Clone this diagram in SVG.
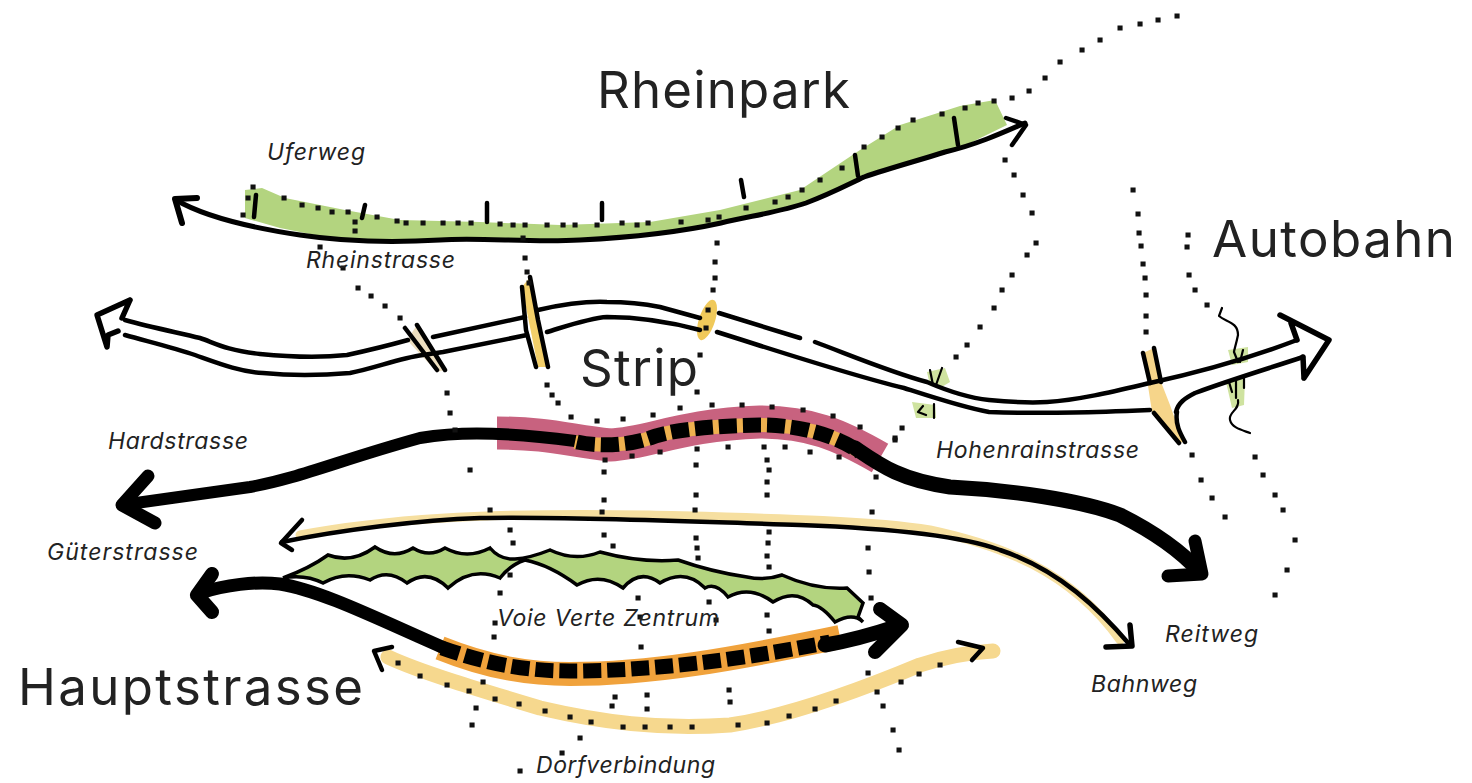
<svg xmlns="http://www.w3.org/2000/svg" width="1472" height="783" viewBox="0 0 1472 783">
<style>
.big{font-family:"Inter","Liberation Sans",sans-serif;font-size:51px;fill:#222}
.lab{font-family:"Inter","Liberation Sans",sans-serif;font-size:23px;font-style:italic;fill:#222}
.ln{fill:none;stroke:#000;stroke-linecap:round;stroke-linejoin:round}
.thin{stroke-width:4.5}
.med{stroke-width:5.5}
.thick{stroke-width:12}
.head{stroke-width:13}
.dots{fill:none;stroke:#111;stroke-width:5;stroke-linecap:square}
.yband{fill:none;stroke-linecap:round;stroke-linejoin:round}
.bband{fill:none;stroke-linecap:butt;stroke-linejoin:round}
.dash{fill:none;stroke:#000;stroke-width:15;stroke-dasharray:18 6}
.grn{fill:#b3d47f}
.tuft{fill:#cfe3a0}
</style>
<rect width="1472" height="783" fill="#fff"/>

<g id="rheinstrasse">
<path class="grn" d="M245 190L262 188L285 198L345 210L400 220L480 222L560 225L650 222L720 210L800 190L860 150L900 125L960 106L995 100L1007 125L962 147L945 152L864 177L806 203L721 223L640 236L560 240L480 238L400 240L330 238L280 228L245 218Z"/>
<path class="ln" stroke-width="5" d="M176 200C200 214 240 226 300 235C340 241 390 243 440 240C480 237 530 243 580 240C640 237 680 232 721 223C750 216 780 212 806 203C830 194 845 186 864 177C890 168 920 160 945 152C975 145 1000 134 1025 123"/>
<path class="ln" stroke-width="6" d="M197 198L175 199L182 223"/>
<path class="ln thin" d="M1006 118L1026 125L1012 145"/>
<path class="ln thin" d="M256 195L254 217M365 205L362 218M487 203V222M602 203V220M741 180L744 197M855 155L858 176M954 118L958 145"/>
</g>

<g id="autobahn">
<path d="M407 340L417 325L445 370L437 372Z" fill="#eedfc0"/>
<path d="M522 287L530 277L548 367L538 367Z" fill="#f3cf6a"/>
<ellipse cx="707" cy="320" rx="8" ry="21" transform="rotate(18 707 320)" fill="#f0c95a"/>
<path d="M1143 353L1154 348L1161 382L1170 405L1183 442L1179 443L1152 412Z" fill="#f6d58a"/>
<path class="tuft" d="M927 372L945 368L950 382L940 388L930 386Z"/>
<path class="tuft" d="M912 402L935 405L936 418L916 418Z"/>
<path class="tuft" d="M1228 350L1248 347L1248 362L1232 365Z"/>
<path class="tuft" d="M1226 382L1245 378L1244 405L1232 408Z"/>
<path class="ln" stroke-width="2.2" d="M1222 308L1219 316C1226 322 1238 322 1238 335C1236 345 1234 350 1234 352M1238 400C1240 410 1228 412 1230 420C1232 428 1242 430 1250 433"/>
<path class="ln" stroke-width="2.2" d="M930 370L933 385M942 368L936 385M923 406L918 412L926 415M934 404V418M1234 352L1238 362M1243 350L1240 362M1229 382L1232 392M1236 380V398M1244 378V388"/>
<path class="ln thin" d="M125 320C150 327 175 332 200 338C215 343 225 350 260 354C290 357 320 358 347 355C370 350 390 345 408 340M433 337L525 317M538 310C560 305 585 301 607 302C630 302 650 305 660 307L700 318M719 313L800 338M815 342C850 355 890 372 927 382C950 392 970 398 989 400C1010 402 1030 403 1047 402C1080 400 1120 390 1150 383C1200 372 1250 358 1297 340"/>
<path class="ln thin" d="M125 335C150 342 175 348 195 355C215 362 240 372 263 373C295 376 325 375 350 373C375 368 400 358 423 355L443 352L527 335M547 332C570 325 590 318 607 317C640 317 670 322 700 330M717 332C790 355 850 375 904 388C935 398 965 408 989 412C1050 414 1100 412 1150 410M1176 412C1178 403 1185 398 1195 393C1230 380 1270 368 1303 357"/>
<path class="ln med" d="M130 300L97 315L107 347L108 335L118 331M130 300L122 318"/>
<path class="ln med" d="M1280 315L1329 340L1304 378M1297 340L1291 323M1303 357L1304 378"/>
<path class="ln thin" d="M405 328L437 370M417 325L445 370M522 287L526 330L536 367M530 277L538 320L548 367M1143 353L1150 383M1154 348L1161 382M1154 413L1179 443M1177 412C1175 424 1180 433 1185 442"/>
</g>

<g id="hardstrasse-strip">
<path class="bband" stroke="#c8627f" stroke-width="33" d="M497 433C550 433 570 441 610 445C650 443 680 425 760 422C810 422 840 435 880 458"/>
<path class="ln thick" d="M122 505L250 487C300 478 340 460 420 438C450 433 490 430 575 441"/>
<path class="bband" stroke="#eeb14f" stroke-width="14" d="M575 442C600 447 630 445 650 438C670 430 710 426 760 425C800 425 835 435 860 452"/>
<path class="dash" d="M577 442C600 447 630 445 650 438C670 430 710 426 760 425C800 425 835 435 860 452"/>
<path class="ln" stroke-width="15" d="M855 448C880 465 900 480 950 487C1010 490 1080 500 1120 515C1150 530 1180 550 1200 572"/>
<path class="ln head" d="M148 476L122 505L155 523"/>
<path class="ln head" d="M1195 541L1202 574L1168 576"/>
</g>

<g id="bahnweg">
<path class="yband" stroke="#f6dfa0" stroke-width="9" d="M300 535C380 520 480 512 650 515C760 518 870 520 930 530C1000 545 1070 570 1120 640"/>
<path class="ln thin" d="M282 542C340 530 420 520 480 518C570 516 700 522 800 525C880 528 960 535 1000 550C1060 570 1100 610 1130 645"/>
<path class="ln thin" d="M302 520L281 543L292 550"/>
<path class="ln med" d="M1130 625L1132 646L1106 647"/>
</g>

<g id="voie-verte">
<path class="grn" stroke="#000" stroke-width="3.5" stroke-linejoin="miter" d="M283 578Q310 568 328 555Q352 564 375 547Q394 560 413 548Q429 558 445 548Q467 560 490 548Q500 560 515 559Q530 558 550 550Q575 562 600 552Q640 563 678 560Q712 572 747 577Q765 581 782 575Q815 590 847 588L863 603L858 617L863 622Q853 612 835 622Q822 606 813 605Q795 588 773 602Q750 585 728 597Q716 582 705 588Q685 568 660 583Q640 568 623 588Q600 572 577 585Q550 565 525 560Q510 565 500 578Q472 566 448 588Q428 568 407 583Q388 568 370 580Q345 570 323 583Q305 574 283 578Z"/>
</g>

<g id="hauptstrasse">
<path class="bband" stroke="#f0a23c" stroke-width="24" d="M440 648C490 668 530 674 570 674C650 674 730 660 840 637"/>
<path class="ln" stroke-width="13" d="M200 593C225 585 255 581 280 584C320 590 380 620 442 647"/>
<path class="dash" d="M442 648C490 665 530 671 570 671C650 671 740 660 830 642"/>
<path class="ln" stroke-width="15" d="M825 645C855 640 880 632 898 626"/>
<path class="ln" stroke-width="14" d="M212 574L197 595L212 612"/>
<path class="ln" stroke-width="14" d="M880 609L902 625L875 652"/>
</g>

<g id="dorfverbindung">
<path class="yband" stroke="#f6d88e" stroke-width="15" d="M388 657C420 672 480 690 540 708C600 722 660 730 730 725C790 716 860 690 920 665C950 655 975 652 993 651"/>
<path class="ln thin" d="M392 647L374 651L382 670"/>
<path class="ln thin" d="M958 642L983 648L972 660"/>
</g>

<g id="connectors">
<path class="dots" d="M253 187h.1M248 198h.1M243 215h.1M284 198h.1M302 205h.1M318 208h.1M332 212h.1M348 212h.1M355 222h.1M355 231h.1M377 217h.1M397 221h.1M406 223h.1M423 223h.1M443 223h.1M458 223h.1M471 223h.1M500 224h.1M513 225h.1M525 225h.1M547 225h.1M563 225h.1M575 225h.1M597 225h.1M622 223h.1M637 225h.1M648 223h.1M681 222h.1M708 220h.1M719 217h.1M746 208h.1M775 202h.1M788 197h.1M802 190h.1M820 180h.1M842 168h.1M864 147h.1M882 137h.1M898 128h.1M913 120h.1M942 114h.1M965 108h.1M978 103h.1M994 101h.1"/>
<path class="dots" d="M1012 98h.1M1029 91h.1M1045 78h.1M1060 62h.1M1082 50h.1M1100 40h.1M1120 28h.1M1140 24h.1M1158 20h.1M1177 16h.1"/>
<path class="dots" d="M1005 160h.1M1014 175h.1M1023 195h.1M1032 213h.1M1036 243h.1M1027 255h.1M1012 275h.1M1002 290h.1M994 308h.1M980 327h.1M967 345h.1M956 357h.1M902 428h.1M895 440h.1M876 477h.1M872 512h.1M868 548h.1M869 572h.1M871 598h.1M868 673h.1M883 706h.1M893 730h.1M899 750h.1"/>
<path class="dots" d="M1133 190h.1M1138 214h.1M1139 233h.1M1141 246h.1M1143 264h.1M1145 278h.1M1146 295h.1M1146 316h.1M1146 332h.1M1192 455h.1M1201 480h.1M1212 498h.1M1225 517h.1"/>
<path class="dots" d="M1188 235h.1M1187 247h.1M1189 275h.1M1195 290h.1M1207 305h.1M1255 457h.1M1263 475h.1M1275 495h.1M1283 510h.1M1295 540h.1M1287 570h.1M1275 595h.1"/>
<path class="dots" d="M320 247h.1M343 268h.1M358 288h.1M371 296h.1M385 306h.1M400 318h.1M447 393h.1M450 413h.1M455 430h.1M470 470h.1M490 510h.1M510 530h.1M513 543h.1M510 575h.1M500 593h.1M495 623h.1M494 637h.1M483 682h.1M476 708h.1M472 725h.1"/>
<path class="dots" d="M523 238h.1M525 258h.1M527 272h.1M529 283h.1M547 385h.1M552 395h.1M558 403h.1M604 472h.1M604 500h.1M602 512h.1M604 535h.1M613 546h.1M638 598h.1M640 617h.1M641 647h.1M615 697h.1M612 706h.1M647 695h.1M647 709h.1M580 738h.1M562 753h.1M520 771h.1"/>
<path class="dots" d="M717 243h.1M715 262h.1M715 278h.1M713 290h.1M708 310h.1M706 328h.1M700 355h.1M697 392h.1M696 465h.1M696 495h.1M695 510h.1M696 538h.1M697 548h.1M698 558h.1M709 602h.1M716 620h.1M729 690h.1M730 702h.1"/>
<path class="dots" d="M767 460h.1M769 470h.1M767 482h.1M767 495h.1M769 532h.1M768 543h.1M767 556h.1M769 567h.1M767 615h.1M769 631h.1"/>
<path class="dots" d="M571 417h.1M597 421h.1M623 419h.1M653 415h.1M680 408h.1M712 405h.1M742 405h.1M772 407h.1M803 410h.1M833 416h.1M860 427h.1M895 438h.1M605 460h.1M632 456h.1M660 452h.1M697 449h.1M728 447h.1M764 447h.1M785 447h.1M810 452h.1M839 457h.1"/>
<path class="dots" d="M398 663h.1M420 676h.1M447 685h.1M469 691h.1M495 699h.1M519 704h.1M545 711h.1M570 717h.1M591 722h.1M623 727h.1M645 727h.1M670 727h.1M692 727h.1M738 725h.1M767 723h.1M789 716h.1M815 709h.1M836 701h.1M877 692h.1M901 682h.1M919 674h.1M940 665h.1"/>
</g>

<g id="labels">
<text class="big" x="597" y="108" textLength="253">Rheinpark</text>
<text class="big" x="1212" y="257" textLength="243">Autobahn</text>
<text class="big" x="580" y="386" textLength="118">Strip</text>
<text class="big" x="18" y="705" textLength="345">Hauptstrasse</text>
<text class="lab" x="267" y="160" textLength="98">Uferweg</text>
<text class="lab" x="306" y="268" textLength="149">Rheinstrasse</text>
<text class="lab" x="108" y="449" textLength="140">Hardstrasse</text>
<text class="lab" x="47" y="560" textLength="151">Güterstrasse</text>
<text class="lab" x="936" y="458" textLength="203">Hohenrainstrasse</text>
<text class="lab" x="497" y="626" textLength="222">Voie Verte Zentrum</text>
<text class="lab" x="1165" y="642" textLength="93">Reitweg</text>
<text class="lab" x="1091" y="692" textLength="106">Bahnweg</text>
<text class="lab" x="536" y="773" textLength="179">Dorfverbindung</text>
</g>
</svg>
